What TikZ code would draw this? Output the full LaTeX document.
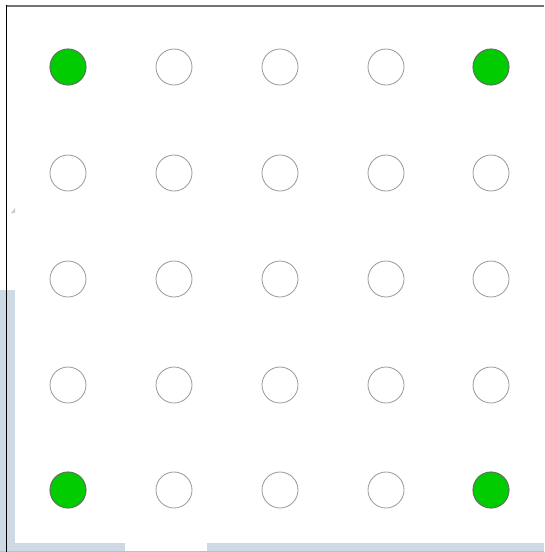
\documentclass[tikz,border=0pt]{standalone}
\definecolor{panelblue}{HTML}{CDD9E4}
\definecolor{dotgreen}{HTML}{00CC00}
\begin{document}
\begin{tikzpicture}[x=1pt,y=-1pt,
  emptydot/.style={circle,draw=black!40,line width=0.8pt,fill=white,minimum size=36pt,inner sep=0pt},
  greendot/.style={circle,draw=black!60,line width=0.8pt,fill=dotgreen,minimum size=36pt,inner sep=0pt}]
\useasboundingbox (0,0) rectangle (544,552);
\fill[white] (0,0) rectangle (544,552);
% background panels
\fill[panelblue] (0,290) rectangle (15,552);
\fill[panelblue] (0,543) rectangle (125,552);
\fill[panelblue] (207,543) rectangle (544,552);
\draw[black!25,line width=0.8pt] (0,551.5) -- (544,551.5);
\fill[panelblue!80!black!60] (11,213) -- (15,208) -- (15,213) -- cycle;
% frame
\draw[black!55,line width=2pt] (6,6) -- (544,6);
\draw[black,line width=1.5pt] (6.5,5) -- (6.5,552);
% dots
\foreach \c [count=\i] in {68,174,280,386,491}{
  \foreach \r [count=\j] in {67,173,279,385,490}{
    \node[emptydot] (d\i\j) at (\c,\r) {};
  }
}
\node[greendot] (g11) at (68,67) {};
\node[greendot] (g51) at (491,67) {};
\node[greendot] (g15) at (68,490) {};
\node[greendot] (g55) at (491,490) {};
\end{tikzpicture}
\end{document}
